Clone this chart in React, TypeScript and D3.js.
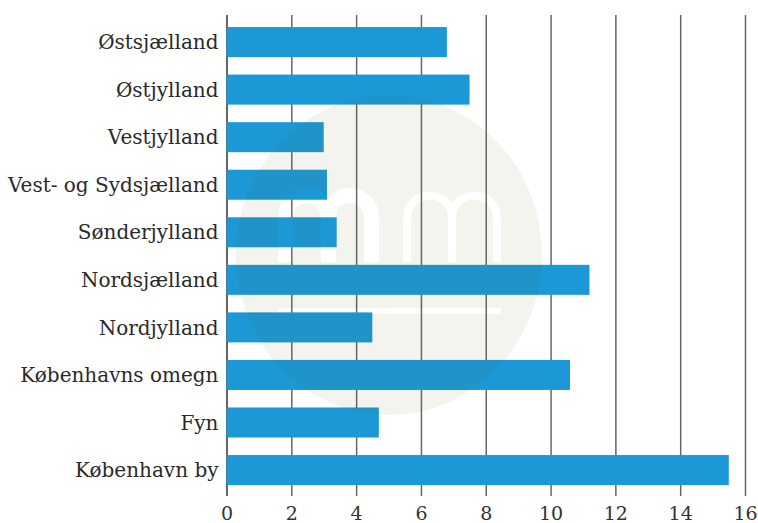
import React, { useEffect, useRef } from 'react';
import * as d3 from 'd3';

// regions, top to bottom as drawn
const regions = [
  'Østsjælland',
  'Østjylland',
  'Vestjylland',
  'Vest- og Sydsjælland',
  'Sønderjylland',
  'Nordsjælland',
  'Nordjylland',
  'Københavns omegn',
  'Fyn',
  'København by',
];
const values = [6.8, 7.5, 3.0, 3.1, 3.4, 11.2, 4.5, 10.6, 4.7, 15.5];
const xTicks = [0, 2, 4, 6, 8, 10, 12, 14, 16];

const W = 758;
const H = 523;
const BLUE = '#1b98d5';
const FONT = '"DejaVu Serif", serif';

export default function App() {
  const ref = useRef<SVGSVGElement>(null);

  useEffect(() => {
    const svg = d3.select(ref.current);
    svg.selectAll('*').remove();

    const x = d3.scaleLinear().domain([0, 16]).range([226.5, 745]);
    const y = d3.scaleBand<string>()
      .domain(regions)
      .range([9.5, 502.6])
      .padding(0.369);

    const gridTop = 15, axisY = 496;

    // vertical gridlines + tick labels
    const axis = svg.append('g')
      .attr('transform', `translate(0,${axisY})`)
      .call(d3.axisBottom(x).tickValues(xTicks).tickSize(-(axisY - gridTop)).tickPadding(10.5).tickFormat(d3.format('d')));
    axis.select('.domain').remove();
    axis.selectAll('.tick line')
      .attr('stroke', (d: any) => (d === 0 ? '#333' : '#666'))
      .attr('stroke-width', 1.5);
    axis.selectAll('.tick text')
      .attr('font-family', FONT)
      .attr('font-size', 19)
      .attr('fill', '#333');

    // bars
    svg.append('g')
      .selectAll('rect')
      .data(regions)
      .enter()
      .append('rect')
      .attr('x', x(0))
      .attr('y', d => y(d)!)
      .attr('width', (d, i) => x(values[i]) - x(0))
      .attr('height', y.bandwidth())
      .attr('fill', BLUE);

    // category labels
    svg.append('g')
      .selectAll('text')
      .data(regions)
      .enter()
      .append('text')
      .attr('x', x(0) - 8)
      .attr('y', d => y(d)! + y.bandwidth() / 2)
      .attr('dy', '0.36em')
      .attr('text-anchor', 'end')
      .attr('font-family', FONT)
      .attr('font-size', 20)
      .attr('fill', '#2a2a2a')
      .text(d => d);

    // watermark overlay: faint disc with "mm" cut out
    const defs = svg.append('defs');
    const mask = defs.append('mask').attr('id', 'wm');
    mask.append('rect').attr('width', W).attr('height', H).attr('fill', 'white');
    const mPath = (x0: number, gap: number) => {
      const p = d3.path();
      for (let k = 0; k < 2; k++) {
        const a = x0 + k * gap, b = a + gap;
        p.moveTo(a, 262);
        p.lineTo(a, 218);
        p.bezierCurveTo(a, 188, b, 188, b, 218);
        p.lineTo(b, 262);
      }
      return p.toString();
    };
    mask.append('path').attr('d', mPath(285.5, 43)).attr('fill', 'none').attr('stroke', 'black').attr('stroke-width', 15);
    mask.append('path').attr('d', mPath(407, 45)).attr('fill', 'none').attr('stroke', 'black').attr('stroke-width', 8);
    mask.append('rect').attr('x', 278).attr('y', 308).attr('width', 223).attr('height', 6).attr('fill', 'black');

    svg.append('ellipse')
      .attr('cx', 389).attr('cy', 255).attr('rx', 153).attr('ry', 160)
      .attr('fill', 'rgb(98,98,26)')
      .attr('fill-opacity', 0.07)
      .attr('mask', 'url(#wm)');
  }, []);

  return (
    <div style={{ position: 'absolute', left: 0, top: 0 }}>
      <svg ref={ref} width={W} height={H} style={{ display: 'block', background: '#fff' }} />
    </div>
  );
}
